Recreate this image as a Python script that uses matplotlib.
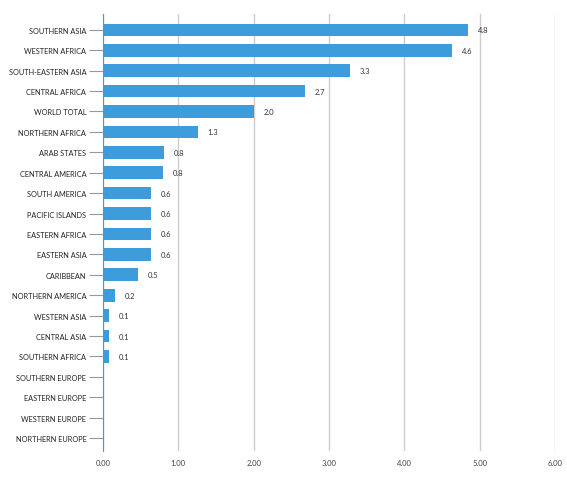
import numpy as np
import matplotlib
matplotlib.use("Agg")
import matplotlib.pyplot as plt

regions = ["SOUTHERN ASIA", "WESTERN AFRICA", "SOUTH-EASTERN ASIA", "CENTRAL AFRICA",
           "WORLD TOTAL", "NORTHERN AFRICA", "ARAB STATES", "CENTRAL AMERICA",
           "SOUTH AMERICA", "PACIFIC ISLANDS", "EASTERN AFRICA", "EASTERN ASIA",
           "CARIBBEAN", "NORTHERN AMERICA", "WESTERN ASIA", "CENTRAL ASIA",
           "SOUTHERN AFRICA", "SOUTHERN EUROPE", "EASTERN EUROPE", "WESTERN EUROPE",
           "NORTHERN EUROPE"]
values = [4.85, 4.63, 3.28, 2.68, 2.0, 1.26, 0.81, 0.80, 0.64, 0.64, 0.64, 0.64,
          0.47, 0.16, 0.08, 0.08, 0.08, 0.01, 0.01, 0.01, 0.01]
labels = ["4.8", "4.6", "3.3", "2.7", "2.0", "1.3", "0.8", "0.8", "0.6", "0.6", "0.6",
          "0.6", "0.5", "0.2", "0.1", "0.1", "0.1", "", "", "", ""]
xticks = [0, 1, 2, 3, 4, 5, 6]

plt.rcParams['font.family'] = ['Lato', 'DejaVu Sans']

fig = plt.figure(figsize=(5.67, 4.81), dpi=100)
ax = fig.add_axes([0.1817, 0.060, 0.797, 0.909])

y = np.arange(len(regions))
ax.barh(y, values, height=0.62, color="#3d9ddc", zorder=3)
for yi, v, lab in zip(y, values, labels):
    if lab:
        ax.text(v + 0.13, yi, lab, va="center", ha="left", fontsize=5.5, color="#333333")

ax.set_xlim(0, 6)
ax.set_ylim(len(regions) - 0.36, -0.78)
ax.set_yticks(y)
ax.set_yticklabels(regions, fontsize=5.3, color="#222222")
ax.set_xticks(xticks)
ax.set_xticklabels([f"{t:.2f}" for t in xticks], fontsize=5.5, color="#444444")
ax.tick_params(axis="y", length=10, width=0.8, color="#999999", pad=2)
ax.tick_params(axis="x", length=0, pad=6)
ax.grid(axis="x", color="#cccccc", linewidth=1, zorder=0)
for s in ["top", "right", "bottom"]:
    ax.spines[s].set_visible(False)
ax.spines["left"].set_color("#3d9ddc")
ax.spines["left"].set_linewidth(0.8)

fig.savefig("out.png", dpi=100)
